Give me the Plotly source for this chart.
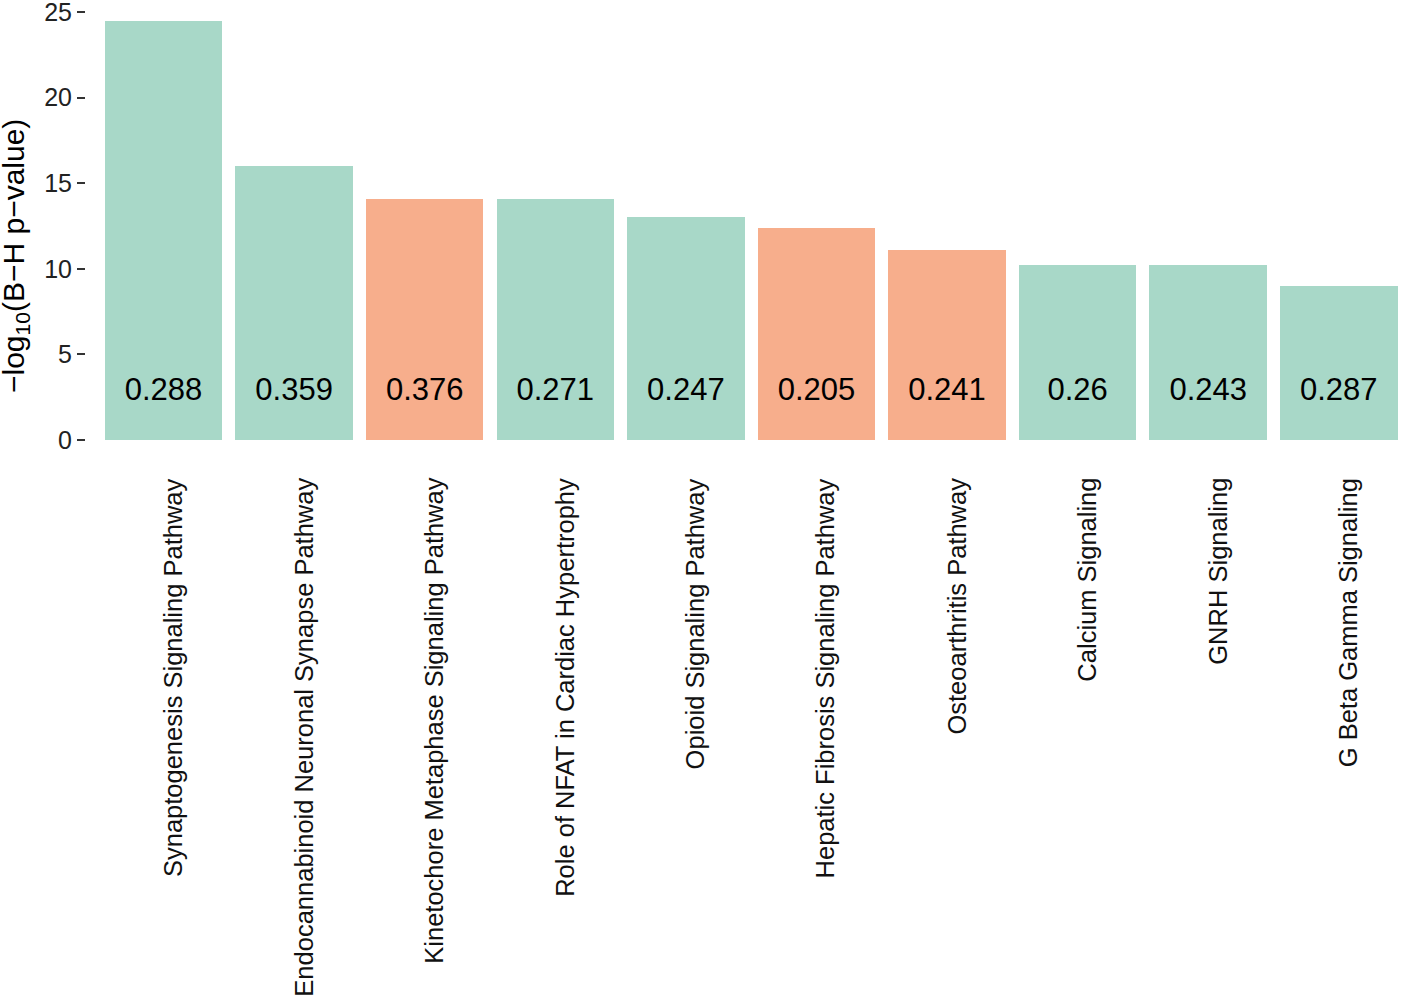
import plotly.graph_objects as go

categories = [
    "Synaptogenesis Signaling Pathway",
    "Endocannabinoid Neuronal Synapse Pathway",
    "Kinetochore Metaphase Signaling Pathway",
    "Role of NFAT in Cardiac Hypertrophy",
    "Opioid Signaling Pathway",
    "Hepatic Fibrosis Signaling Pathway",
    "Osteoarthritis Pathway",
    "Calcium Signaling",
    "GNRH Signaling",
    "G Beta Gamma Signaling",
]
neg_log10_p = [24.5, 16.0, 14.1, 14.1, 13.0, 12.4, 11.1, 10.2, 10.2, 9.0]
bar_labels = ["0.288", "0.359", "0.376", "0.271", "0.247", "0.205", "0.241", "0.26", "0.243", "0.287"]
groups = ["A", "A", "B", "A", "A", "B", "B", "A", "A", "A"]
label_y = [2.8] * len(categories)
y_ticks = [0, 5, 10, 15, 20, 25]

color_map = {"A": "#A8D8C8", "B": "#F7AE8C"}
colors = [color_map[g] for g in groups]

W, H = 1408, 996
L, R, T, B = 86, 0, 8, 556
font = "Liberation Sans, Arial, Helvetica, sans-serif"
xpos = list(range(len(categories)))

fig = go.Figure()
fig.add_trace(go.Bar(
    x=xpos, y=neg_log10_p,
    marker=dict(color=colors, line=dict(width=0)),
    width=0.9, showlegend=False, hoverinfo="skip",
))
fig.add_trace(go.Scatter(
    x=xpos, y=label_y, mode="text",
    text=bar_labels, textposition="middle center",
    textfont=dict(size=31, color="black", family=font),
    showlegend=False, hoverinfo="skip",
))

fig.update_layout(
    width=W, height=H,
    margin=dict(l=L, r=R, t=T, b=B, autoexpand=False),
    plot_bgcolor="white", paper_bgcolor="white",
    font=dict(family=font, color="#222222"),
    bargap=0,
)
fig.update_xaxes(
    range=[-0.594, 9.53], automargin=False,
    showticklabels=False, ticks="",
    showgrid=False, zeroline=False, showline=False,
)
plot_h = H - T - B
fig.update_yaxes(
    range=[0, plot_h / 17.12], automargin=False,
    tickmode="array", tickvals=y_ticks,
    tickfont=dict(size=25, color="#222222"),
    ticklabeloverflow="allow",
    ticks="outside", ticklen=8, tickwidth=2, tickcolor="#333333",
    showgrid=False, zeroline=False, showline=False,
)

for i, cat in enumerate(categories):
    fig.add_annotation(
        text=cat, x=i, y=0, xref="x", yref="y",
        xanchor="center", yanchor="top", textangle=-90,
        xshift=9, yshift=-36, showarrow=False,
        font=dict(size=25.5, color="#111111", family=font),
    )

title_px_x, title_px_y = 15, 256
fig.add_annotation(
    text="\u2212log<sub>10</sub>(B\u2212H p\u2212value)",
    xref="paper", yref="paper",
    x=(title_px_x - L) / (W - L - R), y=(T + plot_h - title_px_y) / plot_h,
    xanchor="center", yanchor="middle", textangle=-90, borderpad=0,
    showarrow=False, font=dict(size=30, color="black", family=font),
)

fig.write_html("out.html", config={"displayModeBar": False},
               post_script="document.body.style.margin='0';")
